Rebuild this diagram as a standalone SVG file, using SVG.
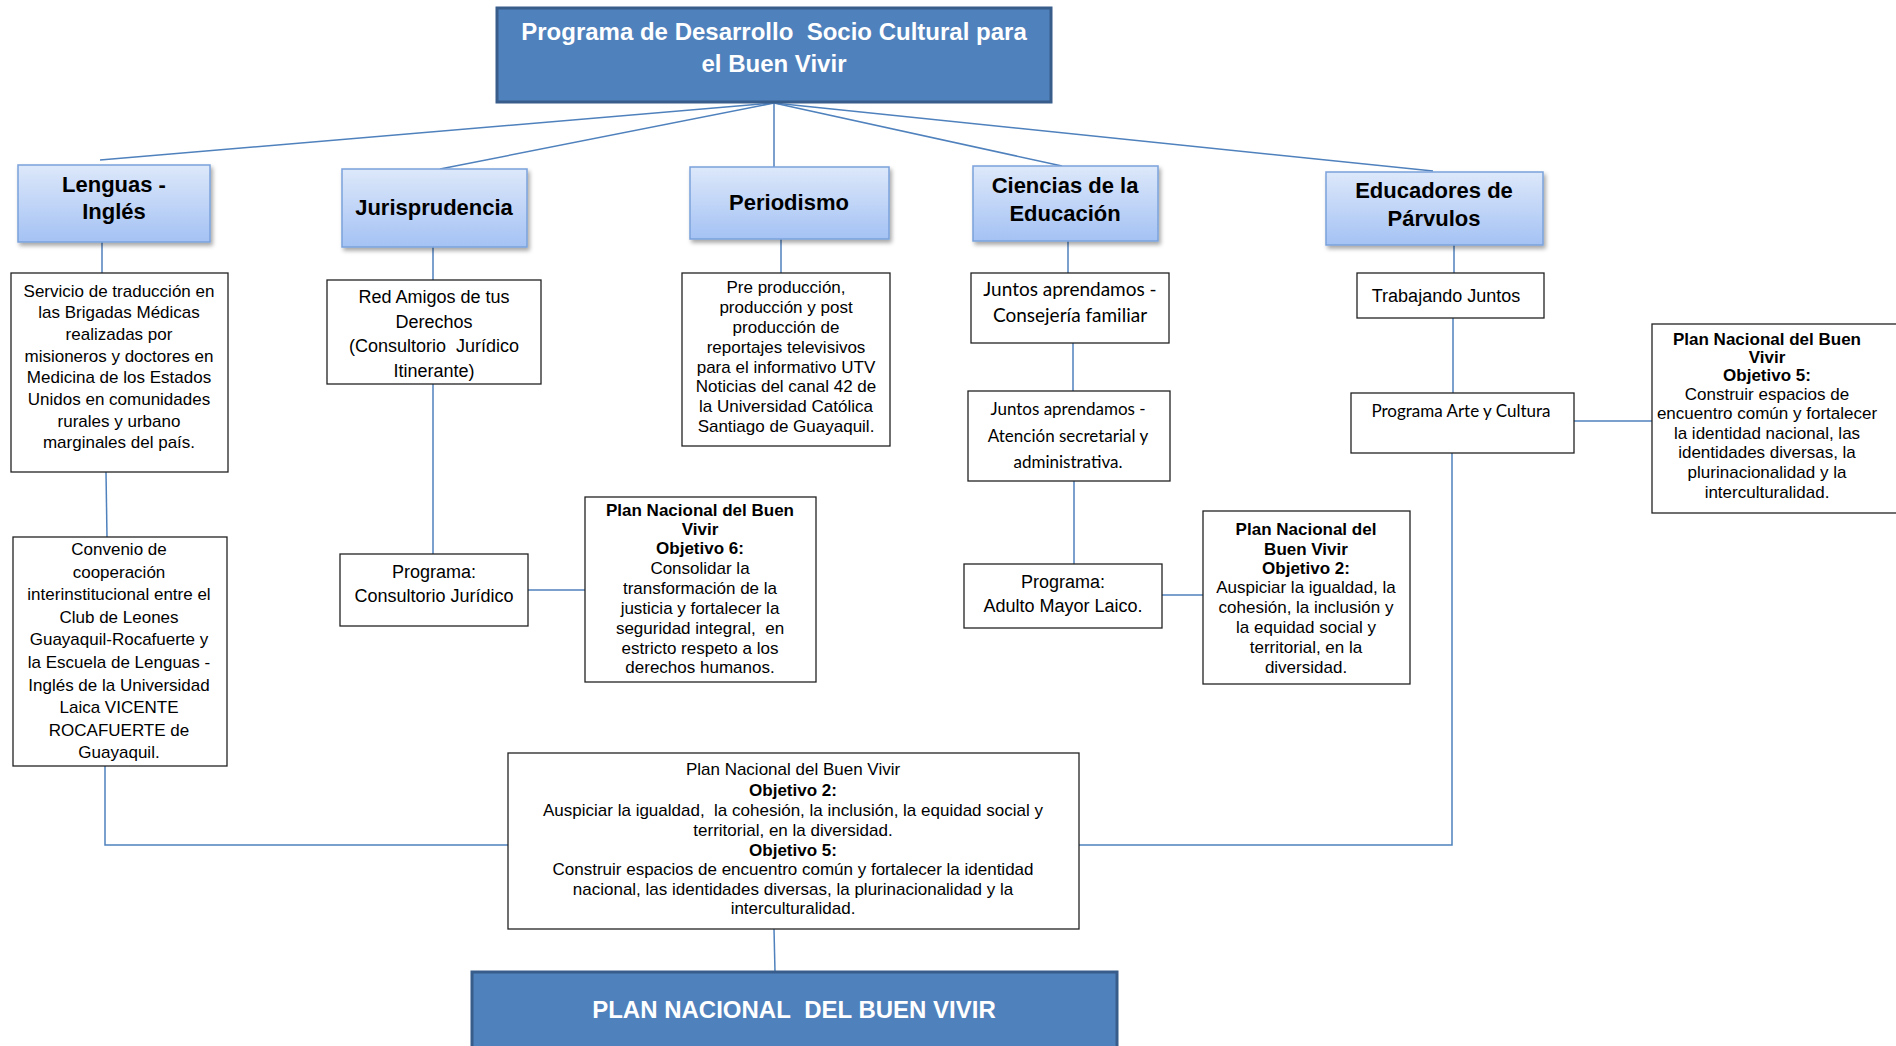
<svg xmlns="http://www.w3.org/2000/svg" width="1896" height="1046" viewBox="0 0 1896 1046">
<defs>
<linearGradient id="lb" x1="0" y1="0" x2="0" y2="1">
<stop offset="0" stop-color="#DDE8FA"/>
<stop offset="1" stop-color="#A4C2F4"/>
</linearGradient>
<filter id="sh" x="-10%" y="-10%" width="130%" height="140%">
<feDropShadow dx="2" dy="3" stdDeviation="2" flood-color="#000" flood-opacity="0.35"/>
</filter>
<style>
.dark{fill:#4F81BD;stroke:#385D8A;stroke-width:3}
.light{fill:url(#lb);stroke:#7BA2DB;stroke-width:1.5;filter:url(#sh)}
.box{fill:#fff;stroke:#222;stroke-width:1.3}
.con{fill:none;stroke:#4F81BD;stroke-width:1.5}
text{font-family:"Liberation Sans",Arial,sans-serif;text-anchor:middle;fill:#000}
.tw{fill:#fff;font-weight:bold;font-size:24px}
.th{font-weight:bold;font-size:22px}
.t17{font-size:17px}
.t18{font-size:18px}
.b{font-weight:bold}
.cal{font-family:Lato,"Open Sans",sans-serif}
</style>
</defs>
<rect width="1896" height="1046" fill="#fff"/>
<g id="connectors">
<path class="con" d="M774,103 L100,160"/>
<path class="con" d="M774,103 L440,169"/>
<path class="con" d="M774,103 L774,167"/>
<path class="con" d="M774,103 L1062,166"/>
<path class="con" d="M774,103 L1433,171"/>
<path class="con" d="M102,242 V273"/>
<path class="con" d="M106,472 L107,537"/>
<path class="con" d="M105,766 V845 H508"/>
<path class="con" d="M1079,845 H1452 V453"/>
<path class="con" d="M1453,318 V393"/>
<path class="con" d="M1454,245 V273"/>
<path class="con" d="M1574,421 H1652"/>
<path class="con" d="M433,247 V280"/>
<path class="con" d="M433,384 V554"/>
<path class="con" d="M528,590 H585"/>
<path class="con" d="M781,239 V273"/>
<path class="con" d="M1068,241 V273"/>
<path class="con" d="M1073,343 V391"/>
<path class="con" d="M1074,481 V564"/>
<path class="con" d="M1162,595 H1203"/>
<path class="con" d="M774,929 L775,972"/>
</g>
<g id="top">
<rect class="dark" x="497" y="8" width="554" height="94"/>
<text class="tw"><tspan x="774" y="40">Programa de Desarrollo&#160; Socio Cultural para</tspan><tspan x="774" y="72">el Buen Vivir</tspan></text>
</g>
<g id="lenguas">
<rect class="light" x="18" y="165" width="192" height="77"/>
<text class="th"><tspan x="114" y="192">Lenguas -</tspan><tspan x="114" y="219">Inglés</tspan></text>
</g>
<g id="jurisprudencia">
<rect class="light" x="342" y="169" width="185" height="78"/>
<text class="th" x="434" y="215">Jurisprudencia</text>
</g>
<g id="periodismo">
<rect class="light" x="690" y="167" width="199" height="72"/>
<text class="th" x="789" y="210">Periodismo</text>
</g>
<g id="ciencias">
<rect class="light" x="973" y="166" width="185" height="75"/>
<text class="th"><tspan x="1065" y="193">Ciencias de la</tspan><tspan x="1065" y="221">Educación</tspan></text>
</g>
<g id="educadores">
<rect class="light" x="1326" y="172" width="217" height="73"/>
<text class="th"><tspan x="1434" y="198">Educadores de</tspan><tspan x="1434" y="226">Párvulos</tspan></text>
</g>
<g id="servicio">
<rect class="box" x="11" y="273" width="217" height="199"/>
<text class="t17"><tspan x="119" y="297">Servicio de traducción en</tspan><tspan x="119" y="318">las Brigadas Médicas</tspan><tspan x="119" y="340">realizadas por</tspan><tspan x="119" y="362">misioneros y doctores en</tspan><tspan x="119" y="383">Medicina de los Estados</tspan><tspan x="119" y="405">Unidos en comunidades</tspan><tspan x="119" y="427">rurales y urbano</tspan><tspan x="119" y="448">marginales del país.</tspan></text>
</g>
<g id="red-amigos">
<rect class="box" x="327" y="280" width="214" height="104"/>
<text class="t18"><tspan x="434" y="303">Red Amigos de tus</tspan><tspan x="434" y="328">Derechos</tspan><tspan x="434" y="352">(Consultorio&#160; Jurídico</tspan><tspan x="434" y="377">Itinerante)</tspan></text>
</g>
<g id="preproduccion">
<rect class="box" x="682" y="273" width="208" height="173"/>
<text class="t17"><tspan x="786" y="293">Pre producción,</tspan><tspan x="786" y="313">producción y post</tspan><tspan x="786" y="333">producción de</tspan><tspan x="786" y="353">reportajes televisivos</tspan><tspan x="786" y="373">para el informativo UTV</tspan><tspan x="786" y="392">Noticias del canal 42 de</tspan><tspan x="786" y="412">la Universidad Católica</tspan><tspan x="786" y="432">Santiago de Guayaquil.</tspan></text>
</g>
<g id="juntos-consejeria">
<rect class="box" x="971" y="273" width="198" height="70"/>
<text class="cal" font-size="19"><tspan x="1070" y="296">Juntos aprendamos -</tspan><tspan x="1070" y="322">Consejería familiar</tspan></text>
</g>
<g id="trabajando">
<rect class="box" x="1357" y="273" width="187" height="45"/>
<text class="t18" x="1446" y="302">Trabajando Juntos</text>
</g>
<g id="plan-obj5-right">
<rect class="box" x="1652" y="324" width="245" height="189"/>
<text class="t17"><tspan class="b" x="1767" y="345">Plan Nacional del Buen</tspan><tspan class="b" x="1767" y="363">Vivir</tspan><tspan class="b" x="1767" y="381">Objetivo 5:</tspan><tspan x="1767" y="400">Construir espacios de</tspan><tspan x="1767" y="419">encuentro común y fortalecer</tspan><tspan x="1767" y="439">la identidad nacional, las</tspan><tspan x="1767" y="458">identidades diversas, la</tspan><tspan x="1767" y="478">plurinacionalidad y la</tspan><tspan x="1767" y="498">interculturalidad.</tspan></text>
</g>
<g id="arte-cultura">
<rect class="box" x="1351" y="393" width="223" height="60"/>
<text class="cal" font-size="17" x="1461" y="417">Programa Arte y Cultura</text>
</g>
<g id="juntos-atencion">
<rect class="box" x="968" y="391" width="202" height="90"/>
<text class="cal" font-size="17"><tspan x="1068" y="415">Juntos aprendamos -</tspan><tspan x="1068" y="442">Atención secretarial y</tspan><tspan x="1068" y="468">administrativa.</tspan></text>
</g>
<g id="convenio">
<rect class="box" x="13" y="537" width="214" height="229"/>
<text class="t17"><tspan x="119" y="555">Convenio de</tspan><tspan x="119" y="578">cooperación</tspan><tspan x="119" y="600">interinstitucional entre el</tspan><tspan x="119" y="623">Club de Leones</tspan><tspan x="119" y="645">Guayaquil-Rocafuerte y</tspan><tspan x="119" y="668">la Escuela de Lenguas -</tspan><tspan x="119" y="691">Inglés de la Universidad</tspan><tspan x="119" y="713">Laica VICENTE</tspan><tspan x="119" y="736">ROCAFUERTE de</tspan><tspan x="119" y="758">Guayaquil.</tspan></text>
</g>
<g id="consultorio">
<rect class="box" x="340" y="554" width="188" height="72"/>
<text class="t18"><tspan x="434" y="578">Programa:</tspan><tspan x="434" y="602">Consultorio Jurídico</tspan></text>
</g>
<g id="plan-obj6">
<rect class="box" x="585" y="497" width="231" height="185"/>
<text class="t17"><tspan class="b" x="700" y="516">Plan Nacional del Buen</tspan><tspan class="b" x="700" y="535">Vivir</tspan><tspan class="b" x="700" y="554">Objetivo 6:</tspan><tspan x="700" y="574">Consolidar la</tspan><tspan x="700" y="594">transformación de la</tspan><tspan x="700" y="614">justicia y fortalecer la</tspan><tspan x="700" y="634">seguridad integral,&#160; en</tspan><tspan x="700" y="654">estricto respeto a los</tspan><tspan x="700" y="673">derechos humanos.</tspan></text>
</g>
<g id="adulto-mayor">
<rect class="box" x="964" y="564" width="198" height="64"/>
<text class="t18"><tspan x="1063" y="588">Programa:</tspan><tspan x="1063" y="612">Adulto Mayor Laico.</tspan></text>
</g>
<g id="plan-obj2">
<rect class="box" x="1203" y="511" width="207" height="173"/>
<text class="t17"><tspan class="b" x="1306" y="535">Plan Nacional del</tspan><tspan class="b" x="1306" y="555">Buen Vivir</tspan><tspan class="b" x="1306" y="574">Objetivo 2:</tspan><tspan x="1306" y="593">Auspiciar la igualdad, la</tspan><tspan x="1306" y="613">cohesión, la inclusión y</tspan><tspan x="1306" y="633">la equidad social y</tspan><tspan x="1306" y="653">territorial, en la</tspan><tspan x="1306" y="673">diversidad.</tspan></text>
</g>
<g id="plan-bottom-box">
<rect class="box" x="508" y="753" width="571" height="176"/>
<text class="t17"><tspan x="793" y="775">Plan Nacional del Buen Vivir</tspan><tspan class="b" x="793" y="796">Objetivo 2:</tspan><tspan x="793" y="816">Auspiciar la igualdad,&#160; la cohesión, la inclusión, la equidad social y</tspan><tspan x="793" y="836">territorial, en la diversidad.</tspan><tspan class="b" x="793" y="856">Objetivo 5:</tspan><tspan x="793" y="875">Construir espacios de encuentro común y fortalecer la identidad</tspan><tspan x="793" y="895">nacional, las identidades diversas, la plurinacionalidad y la</tspan><tspan x="793" y="914">interculturalidad.</tspan></text>
</g>
<g id="plan-nacional">
<rect class="dark" x="472" y="972" width="645" height="84"/>
<text class="tw" x="794" y="1018">PLAN NACIONAL&#160; DEL BUEN VIVIR</text>
</g>
</svg>
